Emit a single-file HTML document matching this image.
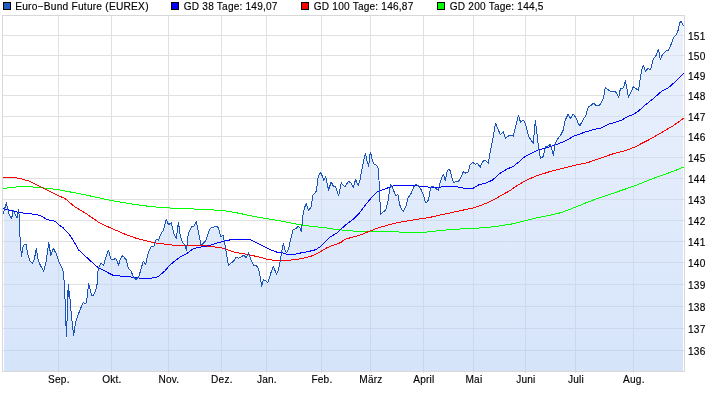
<!DOCTYPE html>
<html><head><meta charset="utf-8"><title>Euro-Bund Future</title>
<style>html,body{margin:0;padding:0;background:#fff}svg{display:block;will-change:transform}text{font-family:"Liberation Sans",sans-serif;font-size:11px;fill:#000;letter-spacing:0.22px;stroke:#000;stroke-width:0.15px}</style></head><body>
<svg width="726" height="405" viewBox="0 0 726 405">
<defs><linearGradient id="g" x1="0" y1="15" x2="0" y2="371" gradientUnits="userSpaceOnUse"><stop offset="0" stop-color="#dce7fb"/><stop offset="1" stop-color="#b4cef6"/></linearGradient></defs>
<rect x="0" y="0" width="726" height="405" fill="#fff"/>
<g stroke="#e0e0e0" stroke-width="1" shape-rendering="crispEdges">
<line x1="3" y1="35.5" x2="684" y2="35.5"/>
<line x1="3" y1="55.5" x2="684" y2="55.5"/>
<line x1="3" y1="75.5" x2="684" y2="75.5"/>
<line x1="3" y1="95.5" x2="684" y2="95.5"/>
<line x1="3" y1="116.5" x2="684" y2="116.5"/>
<line x1="3" y1="136.5" x2="684" y2="136.5"/>
<line x1="3" y1="157.5" x2="684" y2="157.5"/>
<line x1="3" y1="178.5" x2="684" y2="178.5"/>
<line x1="3" y1="199.5" x2="684" y2="199.5"/>
<line x1="3" y1="220.5" x2="684" y2="220.5"/>
<line x1="3" y1="241.5" x2="684" y2="241.5"/>
<line x1="3" y1="262.5" x2="684" y2="262.5"/>
<line x1="3" y1="284.5" x2="684" y2="284.5"/>
<line x1="3" y1="306.5" x2="684" y2="306.5"/>
<line x1="3" y1="328.5" x2="684" y2="328.5"/>
<line x1="3" y1="350.5" x2="684" y2="350.5"/>
<line x1="58.5" y1="16" x2="58.5" y2="373"/>
<line x1="111.5" y1="16" x2="111.5" y2="373"/>
<line x1="168.5" y1="16" x2="168.5" y2="373"/>
<line x1="221.5" y1="16" x2="221.5" y2="373"/>
<line x1="266.5" y1="16" x2="266.5" y2="373"/>
<line x1="321.5" y1="16" x2="321.5" y2="373"/>
<line x1="370.5" y1="16" x2="370.5" y2="373"/>
<line x1="423.5" y1="16" x2="423.5" y2="373"/>
<line x1="473.5" y1="16" x2="473.5" y2="373"/>
<line x1="525.5" y1="16" x2="525.5" y2="373"/>
<line x1="575.5" y1="16" x2="575.5" y2="373"/>
<line x1="633.5" y1="16" x2="633.5" y2="373"/>
</g>
<polygon points="4.0,370.5 4.0,214.9 5.0,208.6 6.5,203.8 7.6,209.9 9.4,216.2 11.6,219.7 13.2,211.5 15.1,214.9 17.0,218.7 18.6,210.8 19.3,218.0 19.8,233.8 20.5,246.1 21.5,257.9 22.3,251.2 23.5,246.1 26.0,245.3 27.7,255.4 30.2,262.1 32.7,264.3 34.4,259.6 36.4,249.5 37.8,259.6 40.3,266.3 43.6,272.1 46.1,262.9 48.7,243.6 50.8,256.2 53.4,249.5 56.2,254.5 58.7,262.1 62.9,270.5 63.5,276.0 64.3,284.4 65.2,304.5 65.5,326.4 66.0,323.9 66.5,337.8 67.4,309.6 68.2,285.2 68.9,297.8 69.4,292.0 70.2,302.9 71.9,321.3 73.6,336.4 75.3,324.7 76.6,320.5 79.5,312.1 82.0,306.2 83.3,303.4 85.7,304.9 87.0,299.5 88.7,284.4 89.9,289.4 91.7,296.5 93.4,296.1 95.9,290.8 97.6,282.7 97.7,273.0 99.0,268.0 101.2,264.3 103.5,266.8 106.0,257.9 108.4,251.2 110.9,260.0 113.4,260.5 115.9,259.3 118.5,266.4 120.5,259.3 122.7,256.8 126.0,260.5 128.5,269.4 131.0,272.2 133.6,278.1 136.1,280.6 138.9,277.3 141.1,269.7 143.3,262.2 145.7,266.0 147.5,256.3 149.5,250.4 152.0,247.0 154.0,247.0 156.2,240.3 158.4,241.2 160.8,235.3 163.4,231.1 166.3,220.2 168.5,225.7 171.3,223.6 173.9,234.5 176.4,239.5 178.4,223.0 180.2,236.1 182.2,242.9 184.4,245.4 186.4,251.6 188.1,236.1 189.8,231.1 192.0,227.4 194.3,226.9 196.2,222.4 198.2,231.9 201.0,245.9 203.2,244.5 206.1,241.2 208.3,233.6 210.4,229.1 213.3,228.3 216.7,227.2 218.7,229.4 220.9,238.1 223.1,236.4 225.1,246.5 226.8,256.6 228.5,267.0 230.5,264.1 233.5,262.4 236.0,258.2 238.5,259.1 241.0,258.2 243.6,256.2 246.1,258.8 248.6,254.0 251.1,261.6 253.6,266.3 256.2,266.6 258.3,269.2 260.0,276.7 261.7,287.3 263.4,280.9 265.4,281.7 267.9,283.4 269.6,278.4 271.3,272.5 273.4,267.5 275.1,271.7 276.6,275.4 278.5,270.8 280.2,261.6 281.8,252.4 283.3,244.5 285.0,250.7 286.7,254.0 288.5,249.9 290.6,240.6 293.1,230.6 295.6,229.7 298.1,227.2 300.3,229.4 301.2,233.1 302.1,224.7 303.1,214.7 304.8,208.0 306.3,204.6 308.5,211.7 311.0,208.0 313.0,196.2 315.2,193.7 316.5,192.0 317.7,179.4 319.4,175.2 321.0,173.6 323.6,181.1 325.7,177.7 328.6,191.2 331.1,182.8 333.6,187.5 335.7,187.8 338.7,196.7 341.3,183.8 343.1,186.3 345.0,188.2 348.2,182.3 350.7,183.8 353.2,188.2 355.7,180.3 358.3,186.9 359.9,181.3 361.4,172.5 363.0,165.5 364.2,158.6 365.4,154.2 366.8,161.1 368.7,167.4 369.6,157.4 370.5,153.2 371.7,158.6 373.4,164.7 375.0,165.2 377.1,167.4 378.4,169.3 379.0,181.3 379.6,196.0 380.1,204.6 380.6,215.2 383.2,212.7 385.7,211.3 387.7,203.8 389.4,192.9 390.7,185.3 392.7,189.5 395.7,196.2 397.9,195.9 399.9,206.3 402.1,211.0 403.6,212.3 405.9,207.2 408.1,198.8 411.4,193.8 413.8,187.9 415.9,185.1 418.5,186.8 421.5,191.3 423.5,196.3 425.5,203.5 427.7,202.7 429.4,196.3 430.5,188.8 432.7,187.1 435.6,189.3 438.3,191.3 440.3,182.9 442.0,177.9 443.3,175.0 445.3,181.5 447.3,172.0 448.7,170.3 450.4,172.0 452.0,178.7 453.7,183.7 456.2,182.1 458.7,182.1 460.8,178.7 463.4,172.5 465.8,174.2 468.0,173.3 470.0,166.1 472.5,163.3 475.2,165.3 477.5,164.4 480.2,168.3 482.2,163.6 484.4,161.1 486.4,162.4 488.1,164.4 489.5,157.7 490.1,153.0 492.6,141.2 494.3,131.2 495.4,124.1 497.6,129.5 500.5,135.9 503.2,132.5 505.5,139.2 508.2,137.1 511.1,136.2 513.2,137.1 515.2,129.5 517.3,120.3 518.6,116.4 520.6,123.6 523.3,121.1 525.3,124.5 527.0,131.2 529.0,137.9 531.2,141.2 533.4,144.6 534.5,129.5 535.4,121.9 537.1,136.2 538.7,149.6 540.4,159.4 542.9,158.0 544.6,151.3 545.8,147.1 548.0,147.1 550.5,145.4 552.2,151.3 553.5,156.4 554.7,146.3 557.2,140.4 560.6,136.2 563.1,131.2 565.3,121.1 568.1,115.2 570.6,119.4 573.2,115.2 576.2,119.0 578.2,124.5 579.8,126.8 583.4,120.1 585.9,116.7 588.1,108.3 591.0,106.3 593.5,104.1 596.0,106.3 599.4,106.3 601.6,103.3 603.6,98.2 605.2,88.5 607.8,90.7 612.0,92.9 615.0,91.9 617.0,95.2 618.7,98.2 620.4,89.5 623.4,89.0 625.4,81.5 627.1,90.7 628.4,98.2 630.8,93.2 633.4,87.8 636.3,89.9 638.5,91.2 640.2,79.8 641.8,71.1 643.3,66.4 645.5,72.2 648.0,69.7 650.6,70.6 652.2,64.7 653.4,59.4 655.9,56.9 658.4,50.2 660.3,60.1 662.8,55.0 665.3,52.5 668.5,51.0 671.0,45.6 673.5,38.7 676.0,36.1 678.2,31.1 679.4,24.8 680.7,22.0 682.3,24.2 683.5,26.7 683.0,26.7 683.0,371.0 4.0,371.0" fill="url(#g)" fill-opacity="0.55" shape-rendering="crispEdges"/>
<rect x="2.5" y="15.5" width="682" height="356" fill="none" stroke="#d8d8d8" stroke-width="1" shape-rendering="crispEdges"/>
<polyline points="3.0,188.5 10.0,187.6 22.0,186.4 26.0,186.4 40.0,187.6 58.0,189.6 85.0,194.8 110.0,200.3 122.4,202.4 134.8,204.4 147.2,206.1 159.6,207.4 172.0,208.1 184.4,208.6 196.8,209.1 209.2,209.8 221.6,210.3 234.0,212.3 246.4,214.8 258.8,217.3 271.2,219.3 283.6,221.5 293.9,223.7 304.0,225.4 314.1,226.7 323.6,227.5 335.2,229.4 343.6,230.2 353.6,231.1 368.7,231.4 397.3,231.6 399.8,232.2 424.8,232.4 430.0,231.6 437.2,230.9 449.6,229.7 462.0,228.9 474.4,228.4 489.3,227.2 499.2,226.0 511.6,224.0 524.0,221.0 536.4,218.0 548.8,215.5 561.2,212.6 573.6,207.9 587.8,202.1 600.8,197.4 613.7,193.0 626.7,188.6 639.7,183.9 652.6,178.7 665.6,174.1 676.0,170.2 683.5,167.1" fill="none" stroke="#00ff00" stroke-width="1" stroke-linejoin="round" shape-rendering="crispEdges"/>
<polyline points="3.0,177.4 14.0,177.4 20.0,178.5 30.0,181.4 42.0,187.6 58.0,195.5 65.0,198.5 75.0,207.0 85.0,212.8 100.0,223.2 111.7,228.4 125.2,234.3 136.9,238.5 148.7,241.5 157.1,243.2 167.1,244.4 175.5,245.5 187.3,245.7 200.7,245.5 210.0,246.3 221.7,248.0 233.5,251.9 246.9,254.4 258.7,256.9 267.1,259.3 275.5,260.6 283.8,260.6 293.9,259.8 304.0,258.1 310.7,256.4 318.4,252.9 326.8,247.8 335.2,244.5 341.0,242.5 344.4,239.4 352.0,237.3 358.7,235.6 367.1,232.2 372.1,230.2 380.5,227.2 388.9,224.8 397.3,222.7 407.3,221.0 419.1,219.0 429.4,217.5 442.0,214.6 455.4,211.8 467.1,209.2 473.8,207.9 483.9,204.2 492.3,200.6 500.7,195.7 509.1,191.1 517.8,185.2 525.6,180.5 535.9,176.1 548.9,171.9 561.9,168.6 574.8,165.2 587.8,162.6 600.8,158.0 613.7,153.6 626.7,150.2 634.5,147.1 647.4,140.6 660.4,133.3 673.4,125.6 683.5,118.4" fill="none" stroke="#ff0000" stroke-width="1" stroke-linejoin="round" shape-rendering="crispEdges"/>
<polyline points="3.0,208.9 10.0,210.3 20.0,212.8 30.0,213.6 40.0,215.3 47.0,219.5 55.0,221.2 58.7,225.0 62.9,227.5 70.5,235.9 78.9,250.2 88.9,259.4 98.2,267.8 104.0,270.6 112.6,275.1 121.8,276.3 131.9,277.1 142.0,278.4 150.4,278.4 157.9,276.8 164.6,271.2 168.8,266.2 173.9,261.7 180.6,256.6 186.4,253.9 192.3,249.4 197.3,247.4 204.1,246.6 210.4,245.3 216.7,243.0 225.1,241.0 232.7,239.3 240.2,239.1 249.4,239.3 255.3,242.1 263.7,246.3 270.4,249.7 277.1,252.2 282.2,252.7 287.2,254.4 293.9,254.4 300.6,253.0 309.0,251.4 315.7,249.7 320.8,246.3 325.8,241.3 330.0,237.1 337.0,233.0 340.4,229.6 347.1,223.7 353.8,218.7 358.8,213.7 363.8,207.0 370.6,198.6 377.3,191.9 384.0,189.3 390.7,186.8 394.1,185.6 415.1,185.6 425.2,186.9 436.9,187.3 448.7,186.4 457.1,186.9 464.6,188.3 473.0,188.3 478.9,184.7 485.6,183.1 492.3,180.2 500.7,172.7 507.7,168.8 513.6,166.3 520.0,160.9 525.3,156.2 537.1,150.3 547.1,147.8 555.5,144.9 563.9,141.6 574.0,136.1 584.1,132.4 594.1,129.4 600.2,128.3 608.6,124.1 615.3,122.4 622.0,119.9 627.9,116.5 633.4,114.4 638.8,110.7 645.5,104.8 653.9,98.1 661.5,91.4 668.2,88.0 675.7,81.3 683.5,73.4" fill="none" stroke="#0000ff" stroke-width="1" stroke-linejoin="round" shape-rendering="crispEdges"/>
<polyline points="3.0,213.9 5.0,207.6 6.5,202.8 7.6,208.9 9.4,215.2 11.6,218.7 13.2,210.5 15.1,213.9 17.0,217.7 18.6,209.8 19.3,217.0 19.8,232.8 20.5,245.1 21.5,256.9 22.3,250.2 23.5,245.1 26.0,244.3 27.7,254.4 30.2,261.1 32.7,263.3 34.4,258.6 36.4,248.5 37.8,258.6 40.3,265.3 43.6,271.1 46.1,261.9 48.7,242.6 50.8,255.2 53.4,248.5 56.2,253.5 58.7,261.1 62.9,269.5 63.5,275.0 64.3,283.4 65.2,303.5 65.5,325.4 66.0,322.9 66.5,336.8 67.4,308.6 68.2,284.2 68.9,296.8 69.4,291.0 70.2,301.9 71.9,320.3 73.6,335.4 75.3,323.7 76.6,319.5 79.5,311.1 82.0,305.2 83.3,302.4 85.7,303.9 87.0,298.5 88.7,283.4 89.9,288.4 91.7,295.5 93.4,295.1 95.9,289.8 97.6,281.7 97.7,272.0 99.0,267.0 101.2,263.3 103.5,265.8 106.0,256.9 108.4,250.2 110.9,259.0 113.4,259.5 115.9,258.3 118.5,265.4 120.5,258.3 122.7,255.8 126.0,259.5 128.5,268.4 131.0,271.2 133.6,277.1 136.1,279.6 138.9,276.3 141.1,268.7 143.3,261.2 145.7,265.0 147.5,255.3 149.5,249.4 152.0,246.0 154.0,246.0 156.2,239.3 158.4,240.2 160.8,234.3 163.4,230.1 166.3,219.2 168.5,224.7 171.3,222.6 173.9,233.5 176.4,238.5 178.4,222.0 180.2,235.1 182.2,241.9 184.4,244.4 186.4,250.6 188.1,235.1 189.8,230.1 192.0,226.4 194.3,225.9 196.2,221.4 198.2,230.9 201.0,244.9 203.2,243.5 206.1,240.2 208.3,232.6 210.4,228.1 213.3,227.3 216.7,226.2 218.7,228.4 220.9,237.1 223.1,235.4 225.1,245.5 226.8,255.6 228.5,266.0 230.5,263.1 233.5,261.4 236.0,257.2 238.5,258.1 241.0,257.2 243.6,255.2 246.1,257.8 248.6,253.0 251.1,260.6 253.6,265.3 256.2,265.6 258.3,268.2 260.0,275.7 261.7,286.3 263.4,279.9 265.4,280.7 267.9,282.4 269.6,277.4 271.3,271.5 273.4,266.5 275.1,270.7 276.6,274.4 278.5,269.8 280.2,260.6 281.8,251.4 283.3,243.5 285.0,249.7 286.7,253.0 288.5,248.9 290.6,239.6 293.1,229.6 295.6,228.7 298.1,226.2 300.3,228.4 301.2,232.1 302.1,223.7 303.1,213.7 304.8,207.0 306.3,203.6 308.5,210.7 311.0,207.0 313.0,195.2 315.2,192.7 316.5,191.0 317.7,178.4 319.4,174.2 321.0,172.6 323.6,180.1 325.7,176.7 328.6,190.2 331.1,181.8 333.6,186.5 335.7,186.8 338.7,195.7 341.3,182.8 343.1,185.3 345.0,187.2 348.2,181.3 350.7,182.8 353.2,187.2 355.7,179.3 358.3,185.9 359.9,180.3 361.4,171.5 363.0,164.5 364.2,157.6 365.4,153.2 366.8,160.1 368.7,166.4 369.6,156.4 370.5,152.2 371.7,157.6 373.4,163.7 375.0,164.2 377.1,166.4 378.4,168.3 379.0,180.3 379.6,195.0 380.1,203.6 380.6,214.2 383.2,211.7 385.7,210.3 387.7,202.8 389.4,191.9 390.7,184.3 392.7,188.5 395.7,195.2 397.9,194.9 399.9,205.3 402.1,210.0 403.6,211.3 405.9,206.2 408.1,197.8 411.4,192.8 413.8,186.9 415.9,184.1 418.5,185.8 421.5,190.3 423.5,195.3 425.5,202.5 427.7,201.7 429.4,195.3 430.5,187.8 432.7,186.1 435.6,188.3 438.3,190.3 440.3,181.9 442.0,176.9 443.3,174.0 445.3,180.5 447.3,171.0 448.7,169.3 450.4,171.0 452.0,177.7 453.7,182.7 456.2,181.1 458.7,181.1 460.8,177.7 463.4,171.5 465.8,173.2 468.0,172.3 470.0,165.1 472.5,162.3 475.2,164.3 477.5,163.4 480.2,167.3 482.2,162.6 484.4,160.1 486.4,161.4 488.1,163.4 489.5,156.7 490.1,152.0 492.6,140.2 494.3,130.2 495.4,123.1 497.6,128.5 500.5,134.9 503.2,131.5 505.5,138.2 508.2,136.1 511.1,135.2 513.2,136.1 515.2,128.5 517.3,119.3 518.6,115.4 520.6,122.6 523.3,120.1 525.3,123.5 527.0,130.2 529.0,136.9 531.2,140.2 533.4,143.6 534.5,128.5 535.4,120.9 537.1,135.2 538.7,148.6 540.4,158.4 542.9,157.0 544.6,150.3 545.8,146.1 548.0,146.1 550.5,144.4 552.2,150.3 553.5,155.4 554.7,145.3 557.2,139.4 560.6,135.2 563.1,130.2 565.3,120.1 568.1,114.2 570.6,118.4 573.2,114.2 576.2,118.0 578.2,123.5 579.8,125.8 583.4,119.1 585.9,115.7 588.1,107.3 591.0,105.3 593.5,103.1 596.0,105.3 599.4,105.3 601.6,102.3 603.6,97.2 605.2,87.5 607.8,89.7 612.0,91.9 615.0,90.9 617.0,94.2 618.7,97.2 620.4,88.5 623.4,88.0 625.4,80.5 627.1,89.7 628.4,97.2 630.8,92.2 633.4,86.8 636.3,88.9 638.5,90.2 640.2,78.8 641.8,70.1 643.3,65.4 645.5,71.2 648.0,68.7 650.6,69.6 652.2,63.7 653.4,58.4 655.9,55.9 658.4,49.2 660.3,59.1 662.8,54.0 665.3,51.5 668.5,50.0 671.0,44.6 673.5,37.7 676.0,35.1 678.2,30.1 679.4,23.8 680.7,21.0 682.3,23.2 683.5,25.7" fill="none" stroke="#1854bc" stroke-width="1" stroke-linejoin="round" shape-rendering="crispEdges"/>
<rect x="3.5" y="2.5" width="7" height="7" fill="#1f5cc4" stroke="#000" stroke-width="1" shape-rendering="crispEdges"/>
<text transform="translate(15.2,10) scale(0.93,1)">Euro−Bund Future (EUREX)</text>
<rect x="171.5" y="2.5" width="7" height="7" fill="#0000ff" stroke="#000" stroke-width="1" shape-rendering="crispEdges"/>
<text transform="translate(183.8,10) scale(0.92,1)">GD 38 Tage: 149,07</text>
<rect x="301.5" y="2.5" width="7" height="7" fill="#ff0000" stroke="#000" stroke-width="1" shape-rendering="crispEdges"/>
<text transform="translate(313.8,10) scale(0.92,1)">GD 100 Tage: 146,87</text>
<rect x="437.5" y="2.5" width="7" height="7" fill="#00ff00" stroke="#000" stroke-width="1" shape-rendering="crispEdges"/>
<text transform="translate(449.8,10) scale(0.92,1)">GD 200 Tage: 144,5</text>
<text transform="translate(688,40) scale(0.92,1)">151</text>
<text transform="translate(688,60) scale(0.92,1)">150</text>
<text transform="translate(688,80) scale(0.92,1)">149</text>
<text transform="translate(688,100) scale(0.92,1)">148</text>
<text transform="translate(688,121) scale(0.92,1)">147</text>
<text transform="translate(688,141) scale(0.92,1)">146</text>
<text transform="translate(688,162) scale(0.92,1)">145</text>
<text transform="translate(688,183) scale(0.92,1)">144</text>
<text transform="translate(688,204) scale(0.92,1)">143</text>
<text transform="translate(688,225) scale(0.92,1)">142</text>
<text transform="translate(688,246) scale(0.92,1)">141</text>
<text transform="translate(688,267) scale(0.92,1)">140</text>
<text transform="translate(688,289) scale(0.92,1)">139</text>
<text transform="translate(688,311) scale(0.92,1)">138</text>
<text transform="translate(688,333) scale(0.92,1)">137</text>
<text transform="translate(688,355) scale(0.92,1)">136</text>
<text transform="translate(58.9,383) scale(0.92,1)" text-anchor="middle">Sep.</text>
<text transform="translate(111.9,383) scale(0.92,1)" text-anchor="middle">Okt.</text>
<text transform="translate(168.9,383) scale(0.92,1)" text-anchor="middle">Nov.</text>
<text transform="translate(221.9,383) scale(0.92,1)" text-anchor="middle">Dez.</text>
<text transform="translate(266.9,383) scale(0.92,1)" text-anchor="middle">Jan.</text>
<text transform="translate(321.9,383) scale(0.92,1)" text-anchor="middle">Feb.</text>
<text transform="translate(370.9,383) scale(0.92,1)" text-anchor="middle">März</text>
<text transform="translate(423.9,383) scale(0.92,1)" text-anchor="middle">April</text>
<text transform="translate(473.9,383) scale(0.92,1)" text-anchor="middle">Mai</text>
<text transform="translate(525.9,383) scale(0.92,1)" text-anchor="middle">Juni</text>
<text transform="translate(575.9,383) scale(0.92,1)" text-anchor="middle">Juli</text>
<text transform="translate(633.9,383) scale(0.92,1)" text-anchor="middle">Aug.</text>
</svg></body></html>
